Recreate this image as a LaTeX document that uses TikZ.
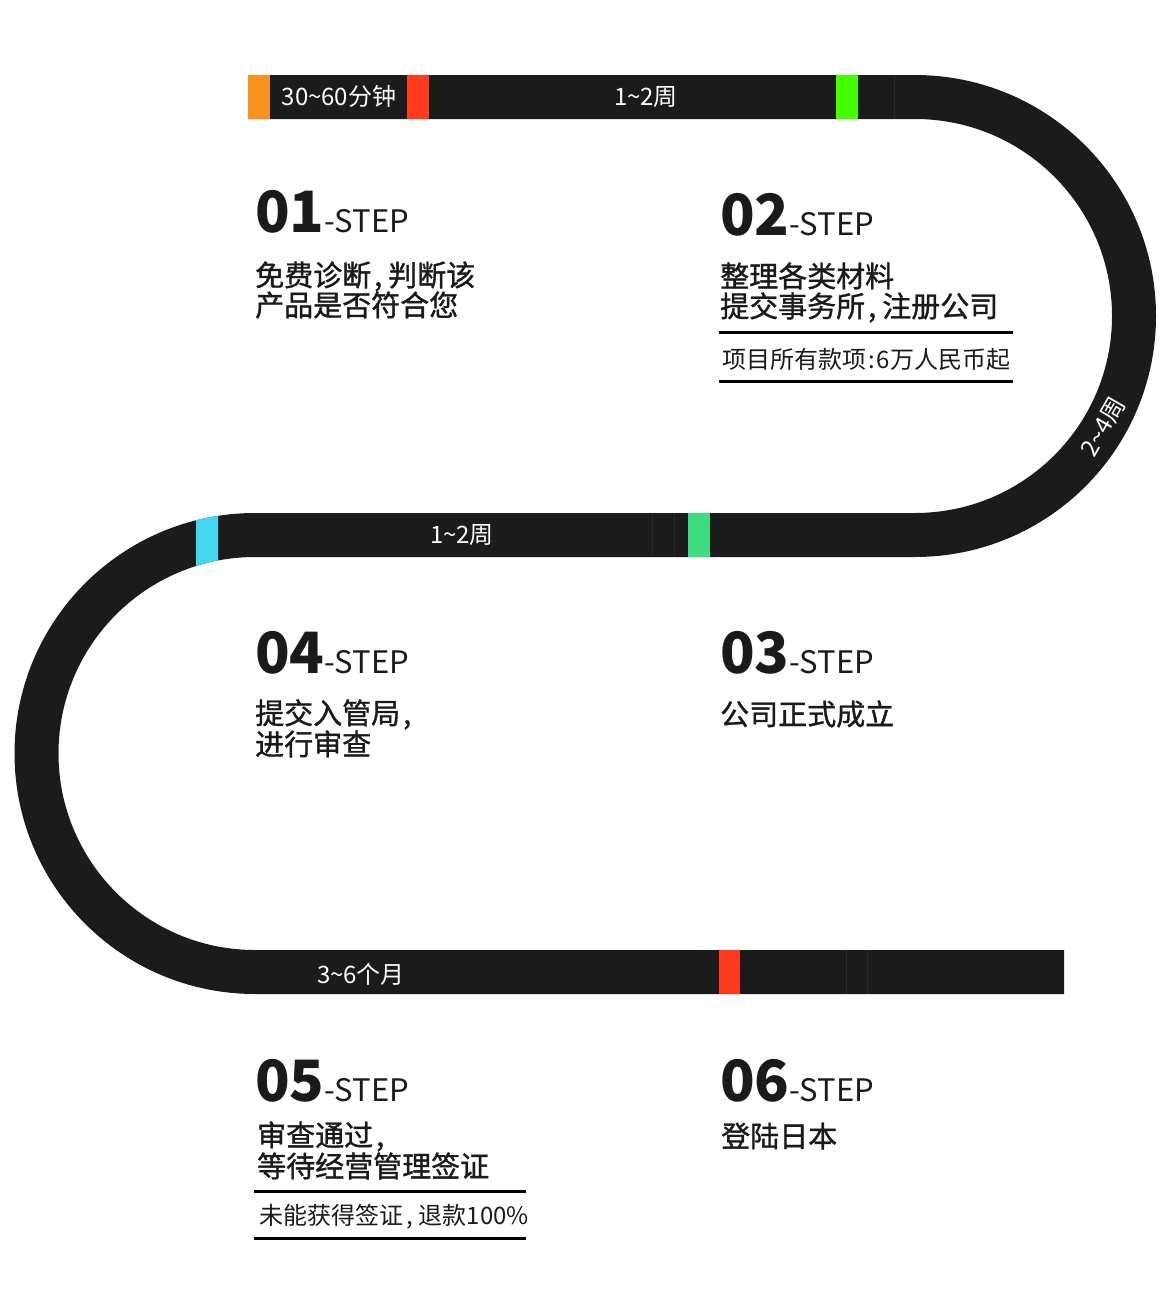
\documentclass[tikz,border=0pt]{standalone}
\usepackage{fontspec}
\setmainfont{Noto Sans CJK SC}
\newfontfamily\descfont{Noto Sans CJK SC}[FakeBold=1.2]
\definecolor{trackc}{HTML}{1B1B1B}
\definecolor{seamc}{HTML}{2A2A2A}
\definecolor{mkorange}{HTML}{F7931E}
\definecolor{mkred}{HTML}{FF3A1F}
\definecolor{mklime}{HTML}{44FF00}
\definecolor{mkcyan}{HTML}{45D7EF}
\definecolor{mkgreen}{HTML}{3DDC80}
\definecolor{textc}{HTML}{1A1A1A}
\tikzset{
  track/.style={draw=trackc, line width=44pt},
  seam/.style={draw=seamc, line width=1pt},
  tracklabel/.style={text=white, font=\fontsize{24}{24}\selectfont, inner sep=0pt, anchor=base},
  steptitle/.style={text=textc, inner sep=0pt, anchor=base west},
  desc/.style={text=textc, inner sep=0pt, anchor=base west, align=left, font=\descfont\fontsize{29}{30}\selectfont},
  note/.style={text=textc, inner sep=0pt, anchor=base west, font=\fontsize{24}{24}\selectfont},
  rule/.style={draw=black, line width=3pt}
}
\newcommand{\stepttl}[1]{{\fontsize{57}{57}\selectfont\bfseries #1}{\fontsize{31}{31}\selectfont -STEP}}
\newcommand{\cm}{\kern3pt,\kern6pt}
\newcommand{\cmend}{\kern3pt,}
\begin{document}
\begin{tikzpicture}[x=1pt,y=-1pt]
\useasboundingbox (0,0) rectangle (1168,1314);
% track
\draw[track] (248,97) -- (915,97) arc[start angle=-90, end angle=90, radius=219]
  -- (255,535) arc[start angle=-90, end angle=-270, radius=218.5] -- (1064,972);
% seams
\draw[seam] (894,75) -- (894,119);
\draw[seam] (652,513) -- (652,557);
\draw[seam] (674,513) -- (674,557);
\draw[seam] (846,950) -- (846,994);
\draw[seam] (867,950) -- (867,994);
% markers
\fill[mkorange] (248,75) rectangle (270,119);
\fill[mkred] (407,75) rectangle (429,119);
\fill[mklime] (836,75) rectangle (858,119);
\fill[mkgreen] (688,513) rectangle (710,557);
\fill[mkred] (719,950) rectangle (740,994);
\begin{scope}
  \clip (255,753.5) circle (240.5);
  \clip (196,500) rectangle (218,600);
  \fill[mkcyan, even odd rule] (0,0) rectangle (1168,1314) (255,753.5) circle (196.5);
\end{scope}
% track labels
\node[tracklabel] (t1) at (339,105) {30\char"007E 60分钟};
\node[tracklabel] (t2) at (646,105) {1\char"007E 2周};
\node[tracklabel, anchor=center, rotate=60] (t3) at (1103,427) {2\char"007E 4周};
\node[tracklabel] (t4) at (462,543) {1\char"007E 2周};
\node[tracklabel] (t5) at (361,983) {3\char"007E 6个月};
% steps
\node[steptitle] (s1) at (255,232) {\stepttl{01}};
\node[desc] (d1) at (255,316) {免费诊断\cm 判断该\\产品是否符合您};
\node[steptitle] (s2) at (720,235) {\stepttl{02}};
\node[desc] (d2) at (720,317) {整理各类材料\\提交事务所\cm 注册公司};
\draw[rule] (719,332) -- (1013,332);
\node[note] (n2) at (722,368) {项目所有款项\kern2pt:\kern2pt 6万人民币起};
\draw[rule] (719,381) -- (1013,381);
\node[steptitle] (s4) at (255,673) {\stepttl{04}};
\node[desc] (d4) at (255,755) {提交入管局\cmend\\进行审查};
\node[steptitle] (s3) at (720,673) {\stepttl{03}};
\node[desc] (d3) at (720,725) {公司正式成立};
\node[steptitle] (s5) at (255,1101) {\stepttl{05}};
\node[desc] (d5) at (257,1177) {审查通过\cmend\\等待经营管理签证};
\draw[rule] (254,1191) -- (526,1191);
\node[note] (n5) at (259,1224) {未能获得签证\cm 退款100\%};
\draw[rule] (254,1238) -- (526,1238);
\node[steptitle] (s6) at (720,1101) {\stepttl{06}};
\node[desc] (d6) at (721,1147) {登陆日本};
\end{tikzpicture}
\end{document}
